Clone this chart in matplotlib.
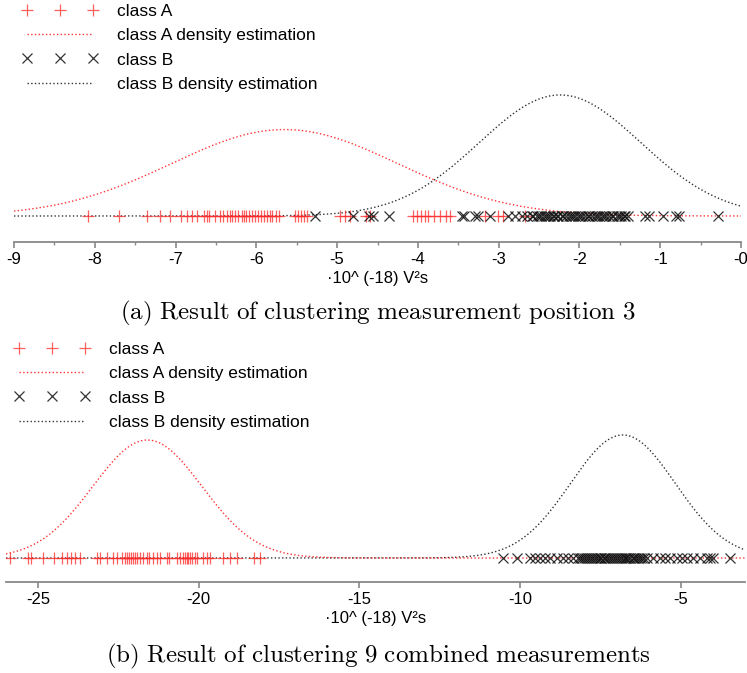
import matplotlib
matplotlib.use("Agg")
import matplotlib.pyplot as plt
import numpy as np
from matplotlib.ticker import MultipleLocator, FixedLocator
from matplotlib.transforms import ScaledTranslation

plt.rcParams['font.family'] = ['Liberation Sans', 'DejaVu Sans']
plt.rcParams['mathtext.fontset'] = 'cm'

# ---- panel (a): measurement position 3 ----
a_class_a = [-8.08, -7.70, -7.35, -7.19, -7.07, -6.93, -6.86, -6.80, -6.74, -6.65,
             -6.61, -6.59, -6.51, -6.45, -6.41, -6.36, -6.33, -6.30, -6.26, -6.23,
             -6.18, -6.15, -6.13, -6.09, -6.05, -6.02, -5.98, -5.94, -5.91, -5.87,
             -5.83, -5.80, -5.76, -5.72, -5.52, -5.49, -5.45, -5.41, -5.37, -4.97,
             -4.90, -4.84, -4.64, -4.59, -4.06, -4.01, -3.96, -3.91, -3.88, -3.80,
             -3.73, -3.65, -3.60, -3.17, -3.01, -2.95, -2.68]
a_class_b = [-5.27, -4.80, -4.61, -4.56, -4.36, -3.46, -3.43, -3.29, -3.26, -3.11,
             -2.89, -2.80, -2.71, -2.65, -2.59, -2.57, -2.53, -2.50, -2.48, -2.44,
             -2.42, -2.39, -2.37, -2.33, -2.31, -2.28, -2.26, -2.22, -2.20, -2.17,
             -2.13, -2.11, -2.08, -2.06, -2.02, -1.99, -1.97, -1.93, -1.90, -1.88,
             -1.84, -1.81, -1.78, -1.76, -1.72, -1.69, -1.67, -1.63, -1.60, -1.58,
             -1.54, -1.51, -1.48, -1.45, -1.43, -1.40, -1.19, -1.14, -0.97, -0.80,
             -0.77, -0.29]
# fitted gaussian densities (mean, std)
a_dens_a = (-5.65, 1.40)
a_dens_b = (-2.24, 1.00)

# ---- panel (b): 9 combined measurements ----
b_class_a = [-25.88, -25.32, -25.23, -24.85, -24.51, -24.26, -24.11, -23.98, -23.86, -23.70,
             -23.17, -23.08, -22.86, -22.67, -22.55, -22.39, -22.30, -22.24, -22.18, -22.11,
             -22.05, -21.99, -21.93, -21.84, -21.74, -21.62, -21.56, -21.43, -21.31, -21.21,
             -20.99, -20.93, -20.68, -20.59, -20.50, -20.44, -20.37, -20.34, -20.28, -20.22,
             -20.12, -20.06, -19.87, -19.75, -19.65, -19.25, -19.03, -18.81, -18.28, -18.09]
b_class_b = [-10.53, -10.09, -9.69, -9.53, -9.38, -9.22, -9.07, -8.85, -8.66, -8.51,
             -8.35, -8.20, -8.14, -8.07, -8.01, -7.95, -7.88, -7.83, -7.76, -7.70,
             -7.65, -7.58, -7.52, -7.47, -7.40, -7.35, -7.29, -7.22, -7.17, -7.10,
             -7.05, -6.99, -6.93, -6.86, -6.81, -6.75, -6.69, -6.63, -6.57, -6.50,
             -6.45, -6.38, -6.32, -6.27, -6.20, -6.13, -6.05, -5.86, -5.64, -5.49,
             -5.33, -5.12, -4.96, -4.80, -4.62, -4.40, -4.18, -4.09, -3.99, -3.47]
b_dens_a = (-21.6, 1.70)
b_dens_b = (-6.8, 1.63)

captions = ["(a) Result of clustering measurement position 3",
            "(b) Result of clustering 9 combined measurements"]
xlabel = "·10^ (-18) V²s"


def gauss(x, mu, sd):
    return np.exp(-0.5 * ((x - mu) / sd) ** 2) / (sd * np.sqrt(2 * np.pi))


def draw_panel(fig, ax, pts_a, pts_b, dens_a, dens_b, xlim, ylim, leg_dx):
    x = np.linspace(xlim[0], xlim[1], 600)
    ax.plot(x, gauss(x, *dens_b), ls=':', color='#333333', lw=1.0,
            label='class B density estimation', zorder=2)
    ax.plot(x, gauss(x, *dens_a), ls=':', color='#ff3333', lw=1.0,
            label='class A density estimation', zorder=2)
    ax.plot(pts_a, np.zeros(len(pts_a)), ls='none', marker='+', ms=8, mew=0.9,
            color='#ff2a2a', alpha=0.75, label='class A', zorder=3)
    ax.plot(pts_b, np.zeros(len(pts_b)), ls='none', marker='x', ms=7, mew=0.9,
            color='#111111', alpha=0.85, label='class B', zorder=4)
    ax.set_xlim(*xlim)
    ax.set_ylim(*ylim)
    for s in ['left', 'right', 'top']:
        ax.spines[s].set_visible(False)
    ax.spines['bottom'].set_color('#888888')
    ax.spines['bottom'].set_linewidth(1.3)
    ax.set_yticks([])
    ax.tick_params(axis='x', colors='#888888', labelcolor='black', labelsize=12,
                   length=4, width=1.2, pad=3)
    ax.tick_params(axis='x', which='minor', colors='#888888', length=2.5, width=1.0)
    ax.set_xlabel(xlabel, fontsize=12, labelpad=3)
    h, l = ax.get_legend_handles_labels()
    order = [2, 1, 3, 0]
    leg = ax.legend([h[i] for i in order], [l[i] for i in order], loc='upper left',
                    bbox_to_anchor=(0.0, 1.0), frameon=False, numpoints=3, fontsize=12.5,
                    handlelength=4.4, handletextpad=1.1, labelspacing=0.52,
                    borderaxespad=0.0, borderpad=0.0)
    leg.set_bbox_to_anchor((0.0, 1.0), transform=ax.transAxes + ScaledTranslation(
        leg_dx / 100.0, -4 / 100.0, fig.dpi_scale_trans))


fig = plt.figure(figsize=(7.47, 6.73), dpi=100)
H = 673.0
W = 747.0

ax1 = fig.add_axes([14 / W, 1 - 242 / H, 727 / W, 242 / H])
draw_panel(fig, ax1, a_class_a, a_class_b, a_dens_a, a_dens_b, (-9, 0),
           (-0.0857, 0.712), 8)
ax1.xaxis.set_major_locator(FixedLocator(list(range(-9, 1))))
ax1.set_xticklabels(['-9', '-8', '-7', '-6', '-5', '-4', '-3', '-2', '-1', '-0'])
ax1.xaxis.set_minor_locator(MultipleLocator(0.5))

b_scale = 118 / (1 / (b_dens_a[1] * np.sqrt(2 * np.pi)))
ax2 = fig.add_axes([6 / W, 1 - 582 / H, 739 / W, (582 - 338) / H])
draw_panel(fig, ax2, b_class_a, b_class_b, b_dens_a, b_dens_b, (-26, -3),
           (-24 / b_scale, 220 / b_scale), 8)
ax2.xaxis.set_major_locator(FixedLocator([-25, -20, -15, -10, -5]))
ax2.set_xticklabels(['-25', '-20', '-15', '-10', '-5'])

for cap, y in zip(captions, [313, 656]):
    fig.text(378 / W, 1 - y / H, r'$\mathrm{' + cap.replace(' ', r'\ ') + '}$',
             ha='center', va='center', fontsize=18)

fig.savefig('out.png', dpi=100)
